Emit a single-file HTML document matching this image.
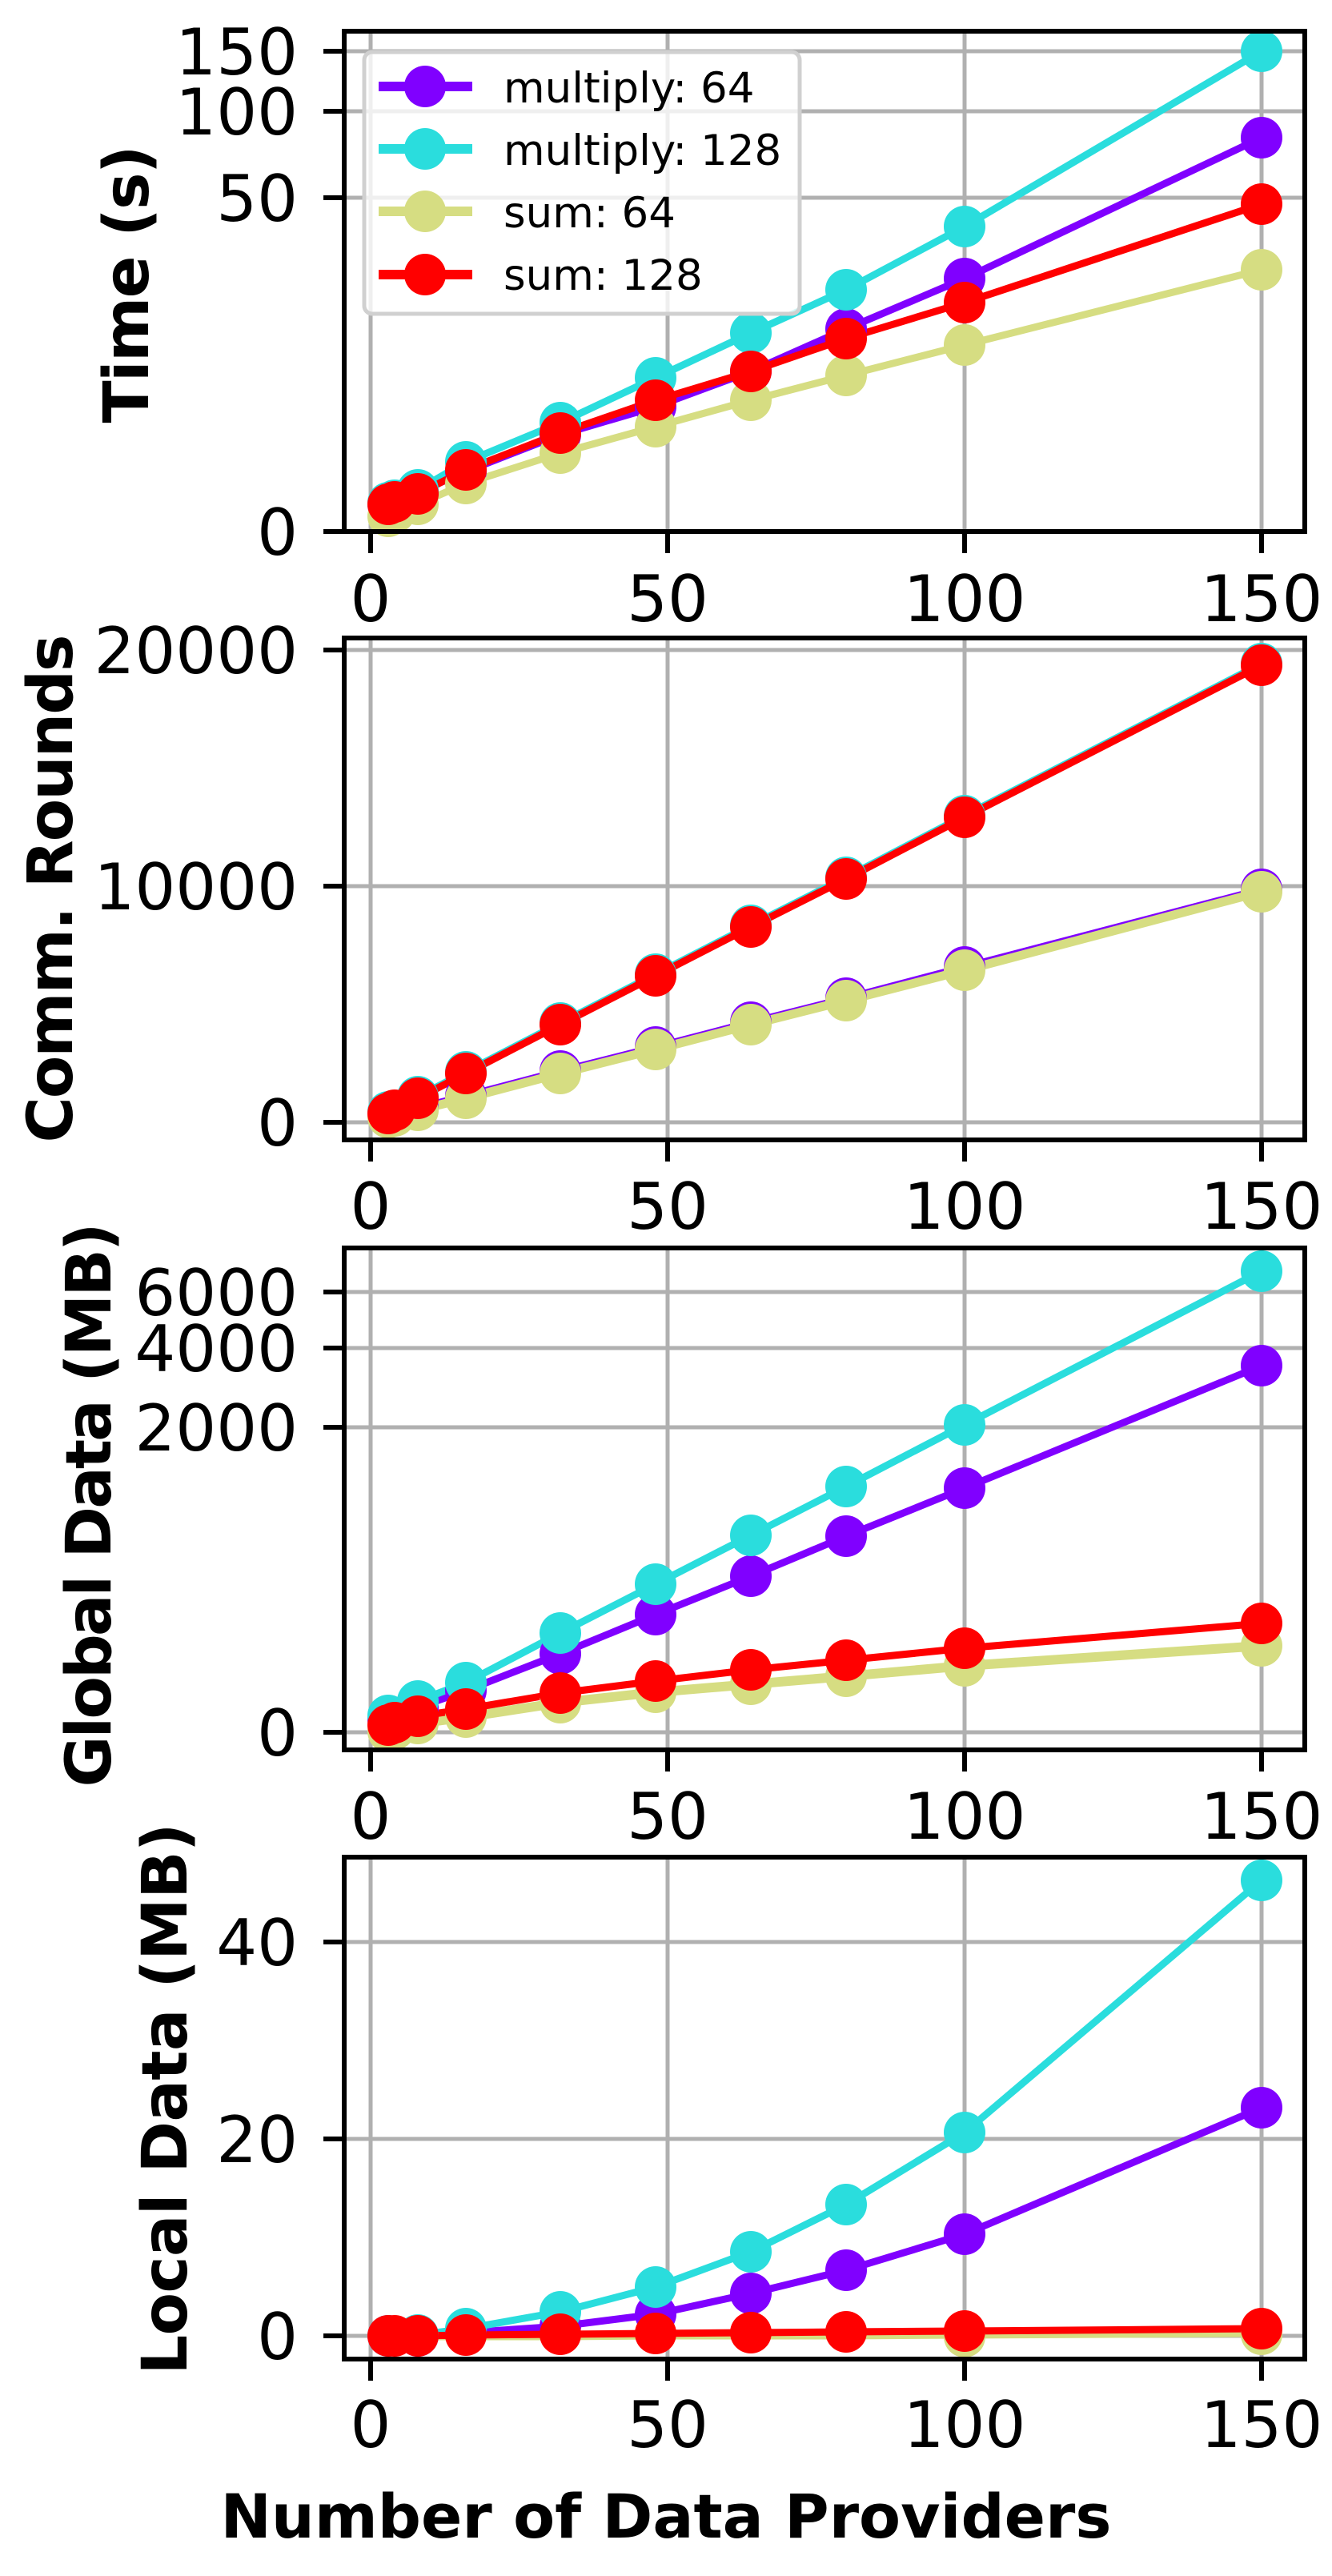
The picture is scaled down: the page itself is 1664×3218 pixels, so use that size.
<!DOCTYPE html>
<html><head><meta charset="utf-8"><style>
html,body{margin:0;padding:0;background:#fff;}
svg{display:block;}
text{font-family:"DejaVu Sans","Liberation Sans",sans-serif;fill:#000;}
</style></head><body>
<svg width="1664" height="3218" viewBox="0 0 1664 3218" xmlns="http://www.w3.org/2000/svg">

<!-- ============ PANEL 1 ============ -->
<g stroke="#b0b0b0" stroke-width="5">
<line x1="463" x2="463" y1="39" y2="664"/><line x1="834" x2="834" y1="39" y2="664"/><line x1="1205" x2="1205" y1="39" y2="664"/><line x1="1576" x2="1576" y1="39" y2="664"/>
<line x1="430" x2="1630" y1="64" y2="64"/><line x1="430" x2="1630" y1="139" y2="139"/><line x1="430" x2="1630" y1="247" y2="247"/><line x1="430" x2="1630" y1="664" y2="664"/>
</g>
<g fill="none" stroke-width="9" stroke-linejoin="round">
<polyline stroke="#8000ff" points="485,630 493,628 522,615 582,589 700,543 819,508 938,464 1057,411 1205,348 1576,172"/>
<polyline stroke="#2adddd" points="485,628 493,625 522,612 582,577 700,528 819,472 938,416 1057,362 1205,283 1576,64"/>
<polyline stroke="#d6dd82" points="485,645 493,640 522,630 582,604 700,566 819,533 938,500 1057,469 1205,431 1576,337"/>
<polyline stroke="#ff0000" points="485,630 493,627 522,617 582,587 700,541 819,500 938,464 1057,423 1205,378 1576,255"/>
</g>
<g fill="#8000ff"><circle cx="485" cy="630" r="26"/><circle cx="493" cy="628" r="26"/><circle cx="522" cy="615" r="26"/><circle cx="582" cy="589" r="26"/><circle cx="700" cy="543" r="26"/><circle cx="819" cy="508" r="26"/><circle cx="938" cy="464" r="26"/><circle cx="1057" cy="411" r="26"/><circle cx="1205" cy="348" r="26"/><circle cx="1576" cy="172" r="26"/></g>
<g fill="#2adddd"><circle cx="485" cy="628" r="26"/><circle cx="493" cy="625" r="26"/><circle cx="522" cy="612" r="26"/><circle cx="582" cy="577" r="26"/><circle cx="700" cy="528" r="26"/><circle cx="819" cy="472" r="26"/><circle cx="938" cy="416" r="26"/><circle cx="1057" cy="362" r="26"/><circle cx="1205" cy="283" r="26"/><circle cx="1576" cy="64" r="26"/></g>
<g fill="#d6dd82"><circle cx="485" cy="645" r="26"/><circle cx="493" cy="640" r="26"/><circle cx="522" cy="630" r="26"/><circle cx="582" cy="604" r="26"/><circle cx="700" cy="566" r="26"/><circle cx="819" cy="533" r="26"/><circle cx="938" cy="500" r="26"/><circle cx="1057" cy="469" r="26"/><circle cx="1205" cy="431" r="26"/><circle cx="1576" cy="337" r="26"/></g>
<g fill="#ff0000"><circle cx="485" cy="630" r="26"/><circle cx="493" cy="627" r="26"/><circle cx="522" cy="617" r="26"/><circle cx="582" cy="587" r="26"/><circle cx="700" cy="541" r="26"/><circle cx="819" cy="500" r="26"/><circle cx="938" cy="464" r="26"/><circle cx="1057" cy="423" r="26"/><circle cx="1205" cy="378" r="26"/><circle cx="1576" cy="255" r="26"/></g>
<!-- legend -->
<rect x="455" y="65" width="544" height="327" rx="10" fill="#ffffff" fill-opacity="0.8" stroke="#d0d0d0" stroke-width="5"/>
<g stroke-width="12">
<line x1="473" x2="590" y1="108" y2="108" stroke="#8000ff"/>
<line x1="473" x2="590" y1="186" y2="186" stroke="#2adddd"/>
<line x1="473" x2="590" y1="264" y2="264" stroke="#d6dd82"/>
<line x1="473" x2="590" y1="343" y2="343" stroke="#ff0000"/>
</g>
<circle cx="531" cy="108" r="26" fill="#8000ff"/><circle cx="531" cy="186" r="26" fill="#2adddd"/><circle cx="531" cy="264" r="26" fill="#d6dd82"/><circle cx="531" cy="343" r="26" fill="#ff0000"/>
<g font-size="53">
<text x="629" y="128">multiply: 64</text>
<text x="629" y="206">multiply: 128</text>
<text x="629" y="284">sum: 64</text>
<text x="629" y="362">sum: 128</text>
</g>
<rect x="430" y="39" width="1200" height="625" fill="none" stroke="#000" stroke-width="6"/>
<g stroke="#000" stroke-width="6">
<line x1="404" x2="430" y1="64" y2="64"/><line x1="404" x2="430" y1="139" y2="139"/><line x1="404" x2="430" y1="247" y2="247"/><line x1="404" x2="430" y1="664" y2="664"/>
<line x1="463" x2="463" y1="664" y2="691"/><line x1="834" x2="834" y1="664" y2="691"/><line x1="1205" x2="1205" y1="664" y2="691"/><line x1="1576" x2="1576" y1="664" y2="691"/>
</g>
<g font-size="80" text-anchor="end">
<text x="372" y="93">150</text><text x="372" y="168">100</text><text x="372" y="276">50</text><text x="372" y="693">0</text>
</g>
<g font-size="80" text-anchor="middle">
<text x="463" y="776">0</text><text x="834" y="776">50</text><text x="1205" y="776">100</text><text x="1576" y="776">150</text>
</g>
<text font-size="78" font-weight="bold" text-anchor="middle" textLength="347" lengthAdjust="spacing" transform="translate(185,355) rotate(-90)">Time (s)</text>

<!-- ============ PANEL 2 ============ -->
<g stroke="#b0b0b0" stroke-width="5">
<line x1="463" x2="463" y1="797" y2="1424"/><line x1="834" x2="834" y1="797" y2="1424"/><line x1="1205" x2="1205" y1="797" y2="1424"/><line x1="1576" x2="1576" y1="797" y2="1424"/>
<line x1="430" x2="1630" y1="812" y2="812"/><line x1="430" x2="1630" y1="1107" y2="1107"/><line x1="430" x2="1630" y1="1402" y2="1402"/>
</g>
<g fill="none" stroke-width="9" stroke-linejoin="round">
<polyline stroke="#8000ff" points="485,1393 493,1391 522,1384 582,1369 700,1338 819,1308 938,1277 1057,1247 1205,1208 1576,1111"/>
<polyline stroke="#2adddd" points="485,1389 493,1385 522,1370 582,1339 700,1278 819,1217 938,1156 1057,1096 1205,1019 1576,829"/>
<polyline stroke="#d6dd82" stroke-width="11" points="485,1396 493,1394 522,1387 582,1372 700,1341 819,1311 938,1280 1057,1250 1205,1212 1576,1114"/>
<polyline stroke="#ff0000" points="485,1391 493,1387 522,1372 582,1341 700,1280 819,1219 938,1158 1057,1098 1205,1021 1576,831"/>
</g>
<g fill="#8000ff"><circle cx="485" cy="1393" r="26"/><circle cx="522" cy="1384" r="26"/><circle cx="582" cy="1369" r="26"/><circle cx="700" cy="1338" r="26"/><circle cx="819" cy="1308" r="26"/><circle cx="938" cy="1277" r="26"/><circle cx="1057" cy="1247" r="26"/><circle cx="1205" cy="1208" r="26"/><circle cx="1576" cy="1111" r="26"/></g>
<g fill="#2adddd"><circle cx="485" cy="1389" r="26"/><circle cx="522" cy="1370" r="26"/><circle cx="582" cy="1339" r="26"/><circle cx="700" cy="1278" r="26"/><circle cx="819" cy="1217" r="26"/><circle cx="938" cy="1156" r="26"/><circle cx="1057" cy="1096" r="26"/><circle cx="1205" cy="1019" r="26"/><circle cx="1576" cy="829" r="26"/></g>
<g fill="#d6dd82"><circle cx="485" cy="1396" r="26"/><circle cx="493" cy="1394" r="26"/><circle cx="522" cy="1387" r="26"/><circle cx="582" cy="1372" r="26"/><circle cx="700" cy="1341" r="26"/><circle cx="819" cy="1311" r="26"/><circle cx="938" cy="1280" r="26"/><circle cx="1057" cy="1250" r="26"/><circle cx="1205" cy="1212" r="26"/><circle cx="1576" cy="1114" r="26"/></g>
<g fill="#ff0000"><circle cx="485" cy="1391" r="26"/><circle cx="493" cy="1387" r="26"/><circle cx="522" cy="1372" r="26"/><circle cx="582" cy="1341" r="26"/><circle cx="700" cy="1280" r="26"/><circle cx="819" cy="1219" r="26"/><circle cx="938" cy="1158" r="26"/><circle cx="1057" cy="1098" r="26"/><circle cx="1205" cy="1021" r="26"/><circle cx="1576" cy="831" r="26"/></g>
<rect x="430" y="797" width="1200" height="627" fill="none" stroke="#000" stroke-width="6"/>
<g stroke="#000" stroke-width="6">
<line x1="404" x2="430" y1="812" y2="812"/><line x1="404" x2="430" y1="1107" y2="1107"/><line x1="404" x2="430" y1="1402" y2="1402"/>
<line x1="463" x2="463" y1="1424" y2="1451"/><line x1="834" x2="834" y1="1424" y2="1451"/><line x1="1205" x2="1205" y1="1424" y2="1451"/><line x1="1576" x2="1576" y1="1424" y2="1451"/>
</g>
<g font-size="80" text-anchor="end">
<text x="372" y="841">20000</text><text x="372" y="1136">10000</text><text x="372" y="1431">0</text>
</g>
<g font-size="80" text-anchor="middle">
<text x="463" y="1535">0</text><text x="834" y="1535">50</text><text x="1205" y="1535">100</text><text x="1576" y="1535">150</text>
</g>
<text font-size="78" font-weight="bold" text-anchor="middle" textLength="635" lengthAdjust="spacing" transform="translate(90,1110) rotate(-90)">Comm. Rounds</text>

<!-- ============ PANEL 3 ============ -->
<g stroke="#b0b0b0" stroke-width="5">
<line x1="463" x2="463" y1="1559" y2="2186"/><line x1="834" x2="834" y1="1559" y2="2186"/><line x1="1205" x2="1205" y1="1559" y2="2186"/><line x1="1576" x2="1576" y1="1559" y2="2186"/>
<line x1="430" x2="1630" y1="1614" y2="1614"/><line x1="430" x2="1630" y1="1684" y2="1684"/><line x1="430" x2="1630" y1="1783" y2="1783"/><line x1="430" x2="1630" y1="2164" y2="2164"/>
</g>
<g fill="none" stroke-width="9" stroke-linejoin="round">
<polyline stroke="#8000ff" points="485,2148 493,2143 522,2133 582,2112 700,2066 819,2017 938,1969 1057,1919 1205,1859 1576,1706"/>
<polyline stroke="#2adddd" points="485,2143 493,2137 522,2125 582,2102 700,2040 819,1979 938,1918 1057,1857 1205,1780 1576,1588"/>
<polyline stroke="#d6dd82" stroke-width="12" points="485,2163 493,2160 522,2153 582,2145 700,2127 819,2114 938,2104 1057,2094 1205,2081 1576,2056"/>
<polyline stroke="#ff0000" points="485,2155 493,2152 522,2144 582,2135 700,2115 819,2100 938,2086 1057,2074 1205,2059 1576,2028"/>
</g>
<g fill="#8000ff"><circle cx="485" cy="2148" r="26"/><circle cx="522" cy="2133" r="26"/><circle cx="582" cy="2112" r="26"/><circle cx="700" cy="2066" r="26"/><circle cx="819" cy="2017" r="26"/><circle cx="938" cy="1969" r="26"/><circle cx="1057" cy="1919" r="26"/><circle cx="1205" cy="1859" r="26"/><circle cx="1576" cy="1706" r="26"/></g>
<g fill="#2adddd"><circle cx="485" cy="2143" r="26"/><circle cx="522" cy="2125" r="26"/><circle cx="582" cy="2102" r="26"/><circle cx="700" cy="2040" r="26"/><circle cx="819" cy="1979" r="26"/><circle cx="938" cy="1918" r="26"/><circle cx="1057" cy="1857" r="26"/><circle cx="1205" cy="1780" r="26"/><circle cx="1576" cy="1588" r="26"/></g>
<g fill="#d6dd82"><circle cx="485" cy="2163" r="26"/><circle cx="493" cy="2160" r="26"/><circle cx="522" cy="2153" r="26"/><circle cx="582" cy="2145" r="26"/><circle cx="700" cy="2127" r="26"/><circle cx="819" cy="2114" r="26"/><circle cx="938" cy="2104" r="26"/><circle cx="1057" cy="2094" r="26"/><circle cx="1205" cy="2081" r="26"/><circle cx="1576" cy="2056" r="26"/></g>
<g fill="#ff0000"><circle cx="485" cy="2155" r="26"/><circle cx="493" cy="2152" r="26"/><circle cx="522" cy="2144" r="26"/><circle cx="582" cy="2135" r="26"/><circle cx="700" cy="2115" r="26"/><circle cx="819" cy="2100" r="26"/><circle cx="938" cy="2086" r="26"/><circle cx="1057" cy="2074" r="26"/><circle cx="1205" cy="2059" r="26"/><circle cx="1576" cy="2028" r="26"/></g>
<rect x="430" y="1559" width="1200" height="627" fill="none" stroke="#000" stroke-width="6"/>
<g stroke="#000" stroke-width="6">
<line x1="404" x2="430" y1="1614" y2="1614"/><line x1="404" x2="430" y1="1684" y2="1684"/><line x1="404" x2="430" y1="1783" y2="1783"/><line x1="404" x2="430" y1="2164" y2="2164"/>
<line x1="463" x2="463" y1="2186" y2="2213"/><line x1="834" x2="834" y1="2186" y2="2213"/><line x1="1205" x2="1205" y1="2186" y2="2213"/><line x1="1576" x2="1576" y1="2186" y2="2213"/>
</g>
<g font-size="80" text-anchor="end">
<text x="372" y="1643">6000</text><text x="372" y="1713">4000</text><text x="372" y="1812">2000</text><text x="372" y="2193">0</text>
</g>
<g font-size="80" text-anchor="middle">
<text x="463" y="2297">0</text><text x="834" y="2297">50</text><text x="1205" y="2297">100</text><text x="1576" y="2297">150</text>
</g>
<text font-size="78" font-weight="bold" text-anchor="middle" textLength="705" lengthAdjust="spacing" transform="translate(138,1880) rotate(-90)">Global Data (MB)</text>

<!-- ============ PANEL 4 ============ -->
<g stroke="#b0b0b0" stroke-width="5">
<line x1="463" x2="463" y1="2320" y2="2947"/><line x1="834" x2="834" y1="2320" y2="2947"/><line x1="1205" x2="1205" y1="2320" y2="2947"/><line x1="1576" x2="1576" y1="2320" y2="2947"/>
<line x1="430" x2="1630" y1="2426" y2="2426"/><line x1="430" x2="1630" y1="2672" y2="2672"/><line x1="430" x2="1630" y1="2918" y2="2918"/>
</g>
<g fill="none" stroke-width="9" stroke-linejoin="round">
<polyline stroke="#8000ff" points="485,2918 493,2918 522,2918 582,2914 700,2906 819,2891 938,2865 1057,2836 1205,2791 1576,2633"/>
<polyline stroke="#2adddd" points="485,2918 493,2918 522,2917 582,2909 700,2888 819,2857 938,2813 1057,2754 1205,2664 1576,2349"/>
<polyline stroke="#d6dd82" points="485,2919 493,2919 522,2919 582,2919 700,2919 819,2918 938,2918 1057,2918 1205,2917 1576,2915"/>
<polyline stroke="#ff0000" points="485,2918 493,2918 522,2918 582,2917 700,2916 819,2915 938,2914 1057,2913 1205,2912 1576,2909"/>
</g>
<g fill="#8000ff"><circle cx="485" cy="2918" r="26"/><circle cx="522" cy="2918" r="26"/><circle cx="582" cy="2914" r="26"/><circle cx="700" cy="2906" r="26"/><circle cx="819" cy="2891" r="26"/><circle cx="938" cy="2865" r="26"/><circle cx="1057" cy="2836" r="26"/><circle cx="1205" cy="2791" r="26"/><circle cx="1576" cy="2633" r="26"/></g>
<g fill="#2adddd"><circle cx="485" cy="2918" r="26"/><circle cx="522" cy="2917" r="26"/><circle cx="582" cy="2909" r="26"/><circle cx="700" cy="2888" r="26"/><circle cx="819" cy="2857" r="26"/><circle cx="938" cy="2813" r="26"/><circle cx="1057" cy="2754" r="26"/><circle cx="1205" cy="2664" r="26"/><circle cx="1576" cy="2349" r="26"/></g>
<g fill="#d6dd82"><circle cx="1205" cy="2919" r="26"/><circle cx="1576" cy="2916" r="26"/></g>
<g fill="#ff0000"><circle cx="485" cy="2918" r="26"/><circle cx="493" cy="2918" r="26"/><circle cx="522" cy="2918" r="26"/><circle cx="582" cy="2917" r="26"/><circle cx="700" cy="2916" r="26"/><circle cx="819" cy="2915" r="26"/><circle cx="938" cy="2914" r="26"/><circle cx="1057" cy="2913" r="26"/><circle cx="1205" cy="2912" r="26"/><circle cx="1576" cy="2909" r="26"/></g>
<rect x="430" y="2320" width="1200" height="627" fill="none" stroke="#000" stroke-width="6"/>
<g stroke="#000" stroke-width="6">
<line x1="404" x2="430" y1="2426" y2="2426"/><line x1="404" x2="430" y1="2672" y2="2672"/><line x1="404" x2="430" y1="2918" y2="2918"/>
<line x1="463" x2="463" y1="2947" y2="2974"/><line x1="834" x2="834" y1="2947" y2="2974"/><line x1="1205" x2="1205" y1="2947" y2="2974"/><line x1="1576" x2="1576" y1="2947" y2="2974"/>
</g>
<g font-size="80" text-anchor="end">
<text x="372" y="2455">40</text><text x="372" y="2701">20</text><text x="372" y="2947">0</text>
</g>
<g font-size="80" text-anchor="middle">
<text x="463" y="3057">0</text><text x="834" y="3057">50</text><text x="1205" y="3057">100</text><text x="1576" y="3057">150</text>
</g>
<text font-size="78" font-weight="bold" text-anchor="middle" textLength="689" lengthAdjust="spacing" transform="translate(233,2622) rotate(-90)">Local Data (MB)</text>
<text font-size="76" font-weight="bold" x="832" y="3170" text-anchor="middle" textLength="1113" lengthAdjust="spacingAndGlyphs">Number of Data Providers</text>
</svg>
</body></html>
